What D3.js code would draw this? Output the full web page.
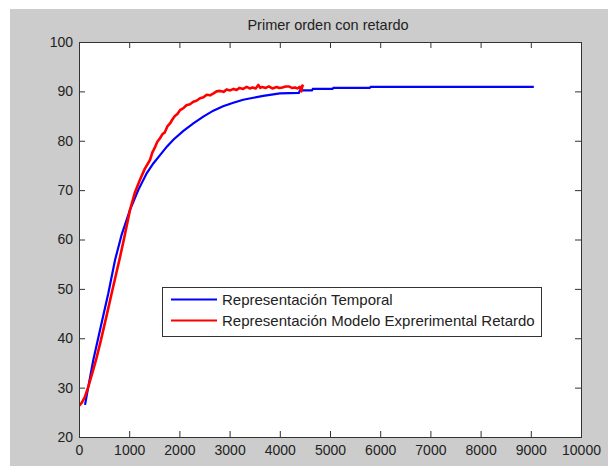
<!DOCTYPE html>
<html>
<head>
<meta charset="utf-8">
<script src="https://cdn.jsdelivr.net/npm/d3@7"></script>
<style>
  body { margin: 0; background: #fff; }
  text { font-family: "Liberation Sans", Arial, sans-serif; fill: #222; }
</style>
</head>
<body>
<svg id="chart" width="608" height="466"></svg>
<script>
// chart data
var title = "Primer orden con retardo";
var xTicks = [0, 1000, 2000, 3000, 4000, 5000, 6000, 7000, 8000, 9000, 10000];
var yTicks = [20, 30, 40, 50, 60, 70, 80, 90, 100];
var seriesNames = ["Representación Temporal", "Representación Modelo Exprerimental Retardo"];

// blue: temporal response (time, value)
var blueT = [120, 186, 285, 432, 584, 717, 850, 1016, 1180, 1348, 1480, 1614, 1750, 1879, 2080, 2278,
  2476, 2676, 2870, 3074, 3270, 3473, 3670, 3871, 4000, 4380, 4400, 4640, 4660, 5050, 5070, 5790, 5810, 9060];
var blueV = [26.5, 30.2, 35.6, 42.3, 49.1, 55.8, 61.0, 66.0, 70.0, 73.4, 75.4, 77.1, 78.8, 80.2, 82.0, 83.5,
  84.9, 86.1, 87.0, 87.7, 88.3, 88.7, 89.1, 89.4, 89.6, 89.7, 90.2, 90.2, 90.5, 90.5, 90.7, 90.7, 90.9, 90.9];

// red: experimental model with delay (noisy measurement)
var redT = [0, 60, 120, 186, 260, 339, 420, 498, 575, 651, 730, 803, 900, 1016, 1110, 1215, 1310, 1414,
  1460, 1510, 1560, 1614, 1660, 1710, 1760, 1813, 1860, 1910, 1960, 2012, 2080, 2140, 2210, 2278, 2340,
  2410, 2480, 2544, 2610, 2680, 2740, 2810, 2880, 2942, 3010, 3080, 3140, 3200, 3270, 3340, 3400, 3460,
  3520, 3572, 3610, 3650, 3720, 3780, 3850, 3938, 3990, 4050, 4120, 4180, 4240, 4300, 4350, 4402, 4430,
  4450, 4468];
var redV = [26.3, 27.0, 28.2, 30.2, 32.8, 35.6, 38.9, 42.3, 45.7, 49.1, 52.6, 55.8, 60.3, 66.0, 69.4, 72.1,
  74.3, 76.1, 77.6, 78.6, 79.8, 80.5, 81.3, 81.7, 82.9, 83.5, 84.3, 85.0, 85.4, 86.2, 86.6, 87.2, 87.4,
  87.9, 88.1, 88.6, 88.8, 89.3, 89.2, 89.6, 90.0, 90.1, 89.9, 90.4, 90.2, 90.5, 90.3, 90.7, 90.5, 90.9,
  90.6, 90.8, 90.6, 91.3, 90.7, 90.9, 90.7, 91.0, 90.6, 90.9, 90.7, 90.8, 91.0, 91.0, 90.7, 90.8, 90.6,
  90.9, 90.0, 91.2, 90.9];

var svg = d3.select("#chart");

// figure background (MATLAB style gray)
svg.append("rect").attr("x", 10).attr("y", 9).attr("width", 598).attr("height", 457).attr("fill", "#cccccc");

var x = d3.scaleLinear().domain([0, 10000]).range([79, 581]);
var y = d3.scaleLinear().domain([20, 100]).range([437, 42]);

svg.append("rect")
  .attr("x", x(0)).attr("y", y(100))
  .attr("width", x(10000) - x(0)).attr("height", y(20) - y(100))
  .attr("fill", "#fff");

var clip = svg.append("clipPath").attr("id", "plotclip").append("rect")
  .attr("x", x(0)).attr("y", y(100))
  .attr("width", x(10000) - x(0)).attr("height", y(20) - y(100));

var line = d3.line().x(function(d){ return x(d[0]); }).y(function(d){ return y(d[1]); });

var blue = blueT.map(function(t, i){ return [t, blueV[i]]; });
var red = redT.map(function(t, i){ return [t, redV[i]]; });

var plot = svg.append("g").attr("clip-path", "url(#plotclip)");
plot.append("path").datum(blue).attr("d", line)
  .attr("fill", "none").attr("stroke", "#0000ff").attr("stroke-width", 2.2);
plot.append("path").datum(red).attr("d", line)
  .attr("fill", "none").attr("stroke", "#ff0000").attr("stroke-width", 2.6).attr("stroke-linejoin", "round");

// axes, ticks pointing inward on all four sides
function styleAxis(g){
  g.select(".domain").remove();
  g.selectAll(".tick line").attr("stroke", "#333");
  g.selectAll(".tick text").attr("fill", "#222").style("font-size", "14px")
    .style("font-family", "'Liberation Sans', Arial, sans-serif");
}

svg.append("g").attr("transform", "translate(0," + y(20) + ")")
  .call(d3.axisBottom(x).tickValues(xTicks).tickSize(-6).tickPadding(8).tickFormat(d3.format("d")))
  .call(styleAxis);
svg.append("g").attr("transform", "translate(0," + y(100) + ")")
  .call(d3.axisTop(x).tickValues(xTicks).tickSize(-6).tickFormat(""))
  .call(styleAxis);
svg.append("g").attr("transform", "translate(" + x(0) + ",0)")
  .call(d3.axisLeft(y).tickValues(yTicks).tickSize(-6).tickPadding(6).tickFormat(d3.format("d")))
  .call(styleAxis);
svg.append("g").attr("transform", "translate(" + x(10000) + ",0)")
  .call(d3.axisRight(y).tickValues(yTicks).tickSize(-6).tickFormat(""))
  .call(styleAxis);

svg.append("rect")
  .attr("x", x(0) + 0.5).attr("y", y(100) + 0.5)
  .attr("width", x(10000) - x(0)).attr("height", y(20) - y(100))
  .attr("fill", "none").attr("stroke", "#333").attr("stroke-width", 1);

svg.append("text")
  .attr("x", (x(0) + x(10000)) / 2 - 2).attr("y", 30)
  .attr("text-anchor", "middle")
  .style("font-size", "14.5px")
  .text(title);

// legend
var legend = svg.append("g").attr("transform", "translate(162,287)");
legend.append("rect").attr("x", 0.5).attr("y", 0.5).attr("width", 379).attr("height", 49)
  .attr("fill", "#fff").attr("stroke", "#333");
var colors = ["#0000ff", "#ff0000"];
seriesNames.forEach(function(name, i){
  var ly = 12.5 + i * 21;
  legend.append("line").attr("x1", 9).attr("x2", 55).attr("y1", ly).attr("y2", ly)
    .attr("stroke", colors[i]).attr("stroke-width", 2);
  legend.append("text").attr("x", 60).attr("y", ly + 5).style("font-size", "15px").text(name);
});
</script>
</body>
</html>
